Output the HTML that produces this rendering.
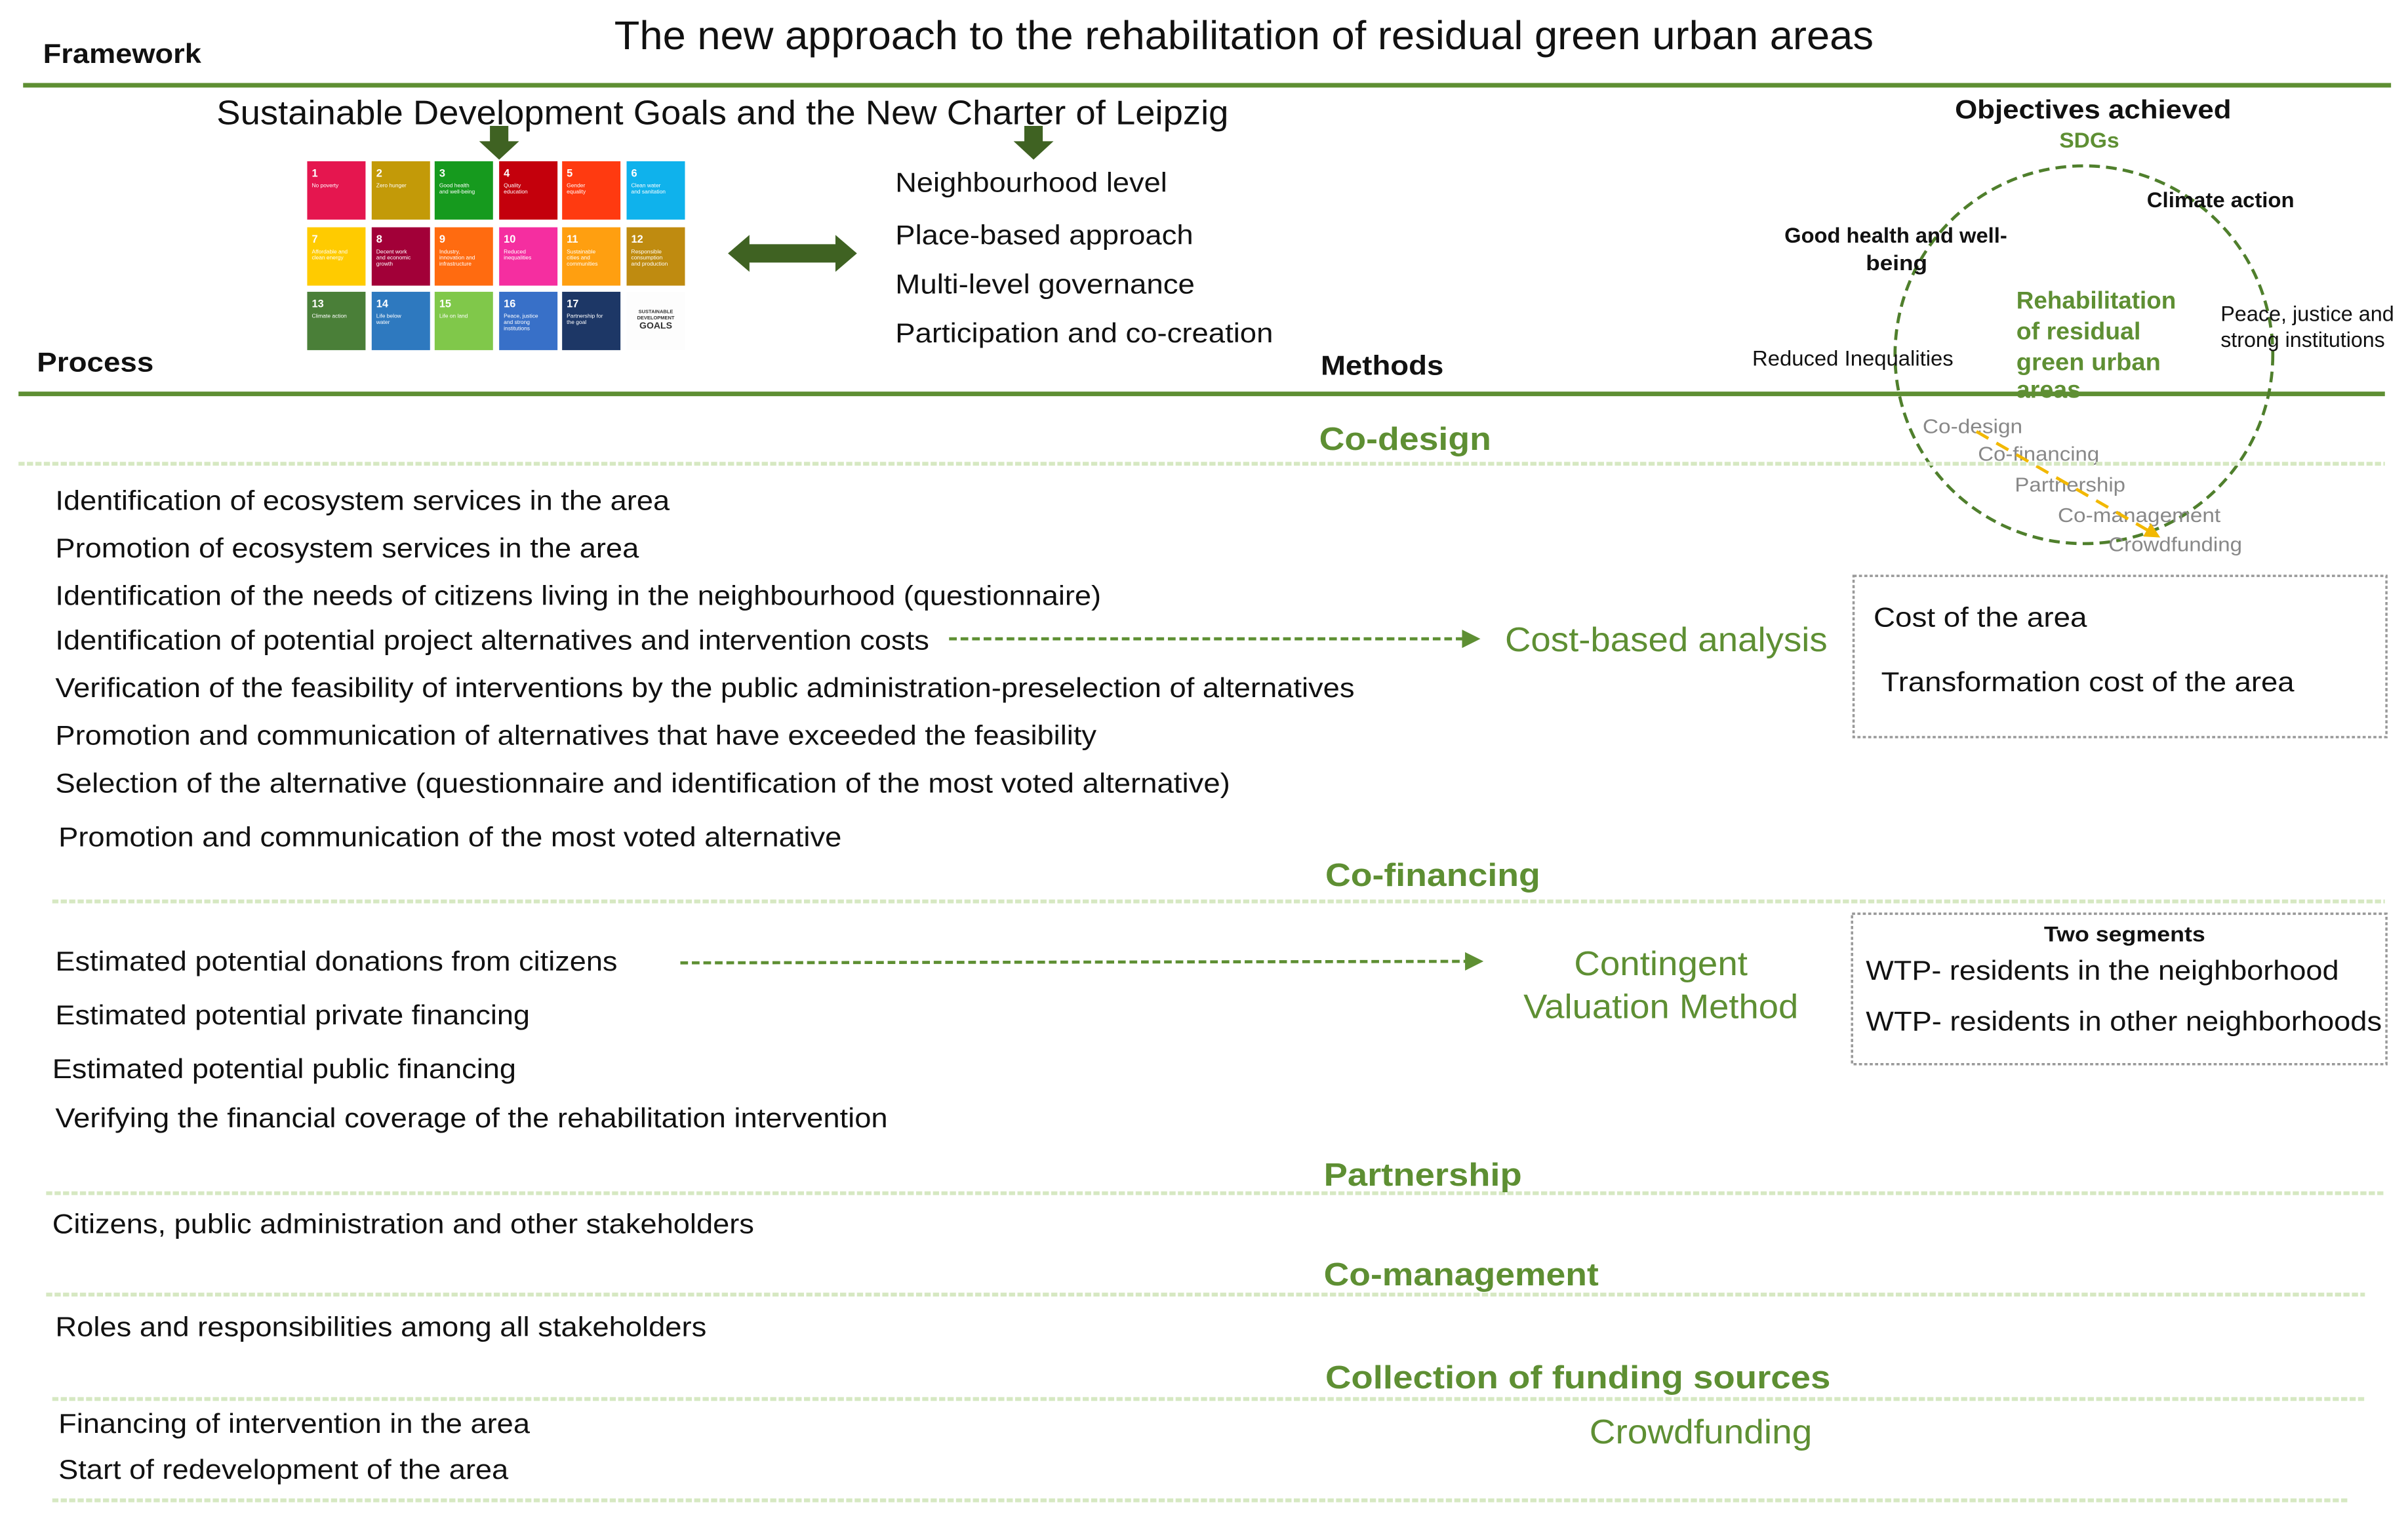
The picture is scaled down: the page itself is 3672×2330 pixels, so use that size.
<!DOCTYPE html>
<html><head><meta charset="utf-8"><style>
html,body{margin:0;padding:0;background:#fff;}
svg{display:block;}
text{font-family:"Liberation Sans",Arial,sans-serif;}
.t{font-size:18px;fill:#111;}
.h{font-size:21px;font-weight:bold;fill:#5e8f33;}
.g{fill:#5e8f33;}
.s{font-size:3.6px;fill:#fff;}
.n{font-size:7px;fill:#fff;font-weight:bold;}
</style></head><body>
<svg width="3672" height="2330" viewBox="0 0 1568 995" xmlns="http://www.w3.org/2000/svg">
<defs>
<marker id="ga" markerWidth="6" markerHeight="6" refX="5" refY="3" orient="auto" markerUnits="strokeWidth"><path d="M0,0 L6,3 L0,6 z" fill="#5e8f33"/></marker>
<marker id="ya" markerWidth="5" markerHeight="5" refX="4" refY="2.5" orient="auto" markerUnits="strokeWidth"><path d="M0,0 L5,2.5 L0,5 z" fill="#f2b800"/></marker>
</defs>
<rect width="1568" height="995" fill="#fff"/>
<text x="400" y="32" font-size="26" fill="#111" textLength="820" lengthAdjust="spacingAndGlyphs">The new approach to the rehabilitation of residual green urban areas</text>
<text x="28" y="41" font-size="18" font-weight="bold" fill="#111" textLength="103" lengthAdjust="spacingAndGlyphs">Framework</text>
<line x1="15" y1="55.5" x2="1557" y2="55.5" stroke="#5e8f33" stroke-width="3"/>
<text x="141" y="81" font-size="22" fill="#111" textLength="659" lengthAdjust="spacingAndGlyphs">Sustainable Development Goals and the New Charter of Leipzig</text>
<!-- down arrows -->
<path d="M319,82 h12 v10 h7 l-13,12 l-13,-12 h7 z" fill="#3f6222"/>
<path d="M667,82 h12 v10 h7 l-13,12 l-13,-12 h7 z" fill="#3f6222"/>
<!-- SDG grid -->
<g>
<rect x="200" y="105" width="38" height="38" fill="#e5164f"/><rect x="242" y="105" width="38" height="38" fill="#c39a08"/><rect x="283" y="105" width="38" height="38" fill="#169a1e"/><rect x="325" y="105" width="38" height="38" fill="#c4000c"/><rect x="366" y="105" width="38" height="38" fill="#ff3a10"/><rect x="408" y="105" width="38" height="38" fill="#0fb2ec"/>
<rect x="200" y="148" width="38" height="38" fill="#ffcb00"/><rect x="242" y="148" width="38" height="38" fill="#a20038"/><rect x="283" y="148" width="38" height="38" fill="#ff6b10"/><rect x="325" y="148" width="38" height="38" fill="#f52ea0"/><rect x="366" y="148" width="38" height="38" fill="#ff9f10"/><rect x="408" y="148" width="38" height="38" fill="#bf8b10"/>
<rect x="200" y="190" width="38" height="38" fill="#4a7f38"/><rect x="242" y="190" width="38" height="38" fill="#2e79bf"/><rect x="283" y="190" width="38" height="38" fill="#80c84a"/><rect x="325" y="190" width="38" height="38" fill="#3870c8"/><rect x="366" y="190" width="38" height="38" fill="#1d3766"/><rect x="408" y="190" width="38" height="38" fill="#fdfdfd"/>
<text class="n" x="203" y="115">1</text><text class="s" x="203" y="122">No poverty</text>
<text class="n" x="245" y="115">2</text><text class="s" x="245" y="122">Zero hunger</text>
<text class="n" x="286" y="115">3</text><text class="s" x="286" y="122">Good health</text><text class="s" x="286" y="126">and well-being</text>
<text class="n" x="328" y="115">4</text><text class="s" x="328" y="122">Quality</text><text class="s" x="328" y="126">education</text>
<text class="n" x="369" y="115">5</text><text class="s" x="369" y="122">Gender</text><text class="s" x="369" y="126">equality</text>
<text class="n" x="411" y="115">6</text><text class="s" x="411" y="122">Clean water</text><text class="s" x="411" y="126">and sanitation</text>
<text class="n" x="203" y="158">7</text><text class="s" x="203" y="165">Affordable and</text><text class="s" x="203" y="169">clean energy</text>
<text class="n" x="245" y="158">8</text><text class="s" x="245" y="165">Decent work</text><text class="s" x="245" y="169">and economic</text><text class="s" x="245" y="173">growth</text>
<text class="n" x="286" y="158">9</text><text class="s" x="286" y="165">Industry,</text><text class="s" x="286" y="169">innovation and</text><text class="s" x="286" y="173">infrastructure</text>
<text class="n" x="328" y="158">10</text><text class="s" x="328" y="165">Reduced</text><text class="s" x="328" y="169">inequalities</text>
<text class="n" x="369" y="158">11</text><text class="s" x="369" y="165">Sustainable</text><text class="s" x="369" y="169">cities and</text><text class="s" x="369" y="173">communities</text>
<text class="n" x="411" y="158">12</text><text class="s" x="411" y="165">Responsible</text><text class="s" x="411" y="169">consumption</text><text class="s" x="411" y="173">and production</text>
<text class="n" x="203" y="200">13</text><text class="s" x="203" y="207">Climate action</text>
<text class="n" x="245" y="200">14</text><text class="s" x="245" y="207">Life below</text><text class="s" x="245" y="211">water</text>
<text class="n" x="286" y="200">15</text><text class="s" x="286" y="207">Life on land</text>
<text class="n" x="328" y="200">16</text><text class="s" x="328" y="207">Peace, justice</text><text class="s" x="328" y="211">and strong</text><text class="s" x="328" y="215">institutions</text>
<text class="n" x="369" y="200">17</text><text class="s" x="369" y="207">Partnership for</text><text class="s" x="369" y="211">the goal</text>
<text x="427" y="204" font-size="3.2" font-weight="bold" fill="#333" text-anchor="middle">SUSTAINABLE</text><text x="427" y="208" font-size="3.2" font-weight="bold" fill="#333" text-anchor="middle">DEVELOPMENT</text><text x="427" y="214" font-size="6" font-weight="bold" fill="#333" text-anchor="middle">GOALS</text>
</g>
<!-- double arrow -->
<path d="M474,165 L488,153 L488,159 L544,159 L544,153 L558,165 L544,177 L544,171 L488,171 L488,177 Z" fill="#3f6222"/>
<text class="t" x="583" y="125" textLength="177" lengthAdjust="spacingAndGlyphs">Neighbourhood level</text>
<text class="t" x="583" y="159" textLength="194" lengthAdjust="spacingAndGlyphs">Place-based approach</text>
<text class="t" x="583" y="191" textLength="195" lengthAdjust="spacingAndGlyphs">Multi-level governance</text>
<text class="t" x="583" y="223" textLength="246" lengthAdjust="spacingAndGlyphs">Participation and co-creation</text>
<text x="24" y="242" font-size="18" font-weight="bold" fill="#111" textLength="76" lengthAdjust="spacingAndGlyphs">Process</text>
<text x="860" y="244" font-size="18" font-weight="bold" fill="#111" textLength="80" lengthAdjust="spacingAndGlyphs">Methods</text>
<line x1="12" y1="256.5" x2="1553" y2="256.5" stroke="#5e8f33" stroke-width="3"/>
<!-- objectives -->
<text x="1273" y="77" font-size="17" font-weight="bold" fill="#111" textLength="180" lengthAdjust="spacingAndGlyphs">Objectives achieved</text>
<text x="1341" y="96" font-size="14" font-weight="bold" class="g" textLength="39" lengthAdjust="spacingAndGlyphs">SDGs</text>
<circle cx="1357" cy="231" r="123" fill="none" stroke="#4f7f2c" stroke-width="2" stroke-dasharray="7,4"/>
<text x="1398" y="135" font-size="14" font-weight="bold" fill="#111" textLength="96" lengthAdjust="spacingAndGlyphs">Climate action</text>
<text x="1162" y="158" font-size="14" font-weight="bold" fill="#111" textLength="145" lengthAdjust="spacingAndGlyphs">Good health and well-</text>
<text x="1215" y="176" font-size="14" font-weight="bold" fill="#111" textLength="40" lengthAdjust="spacingAndGlyphs">being</text>
<text x="1313" y="201" font-size="16" font-weight="bold" class="g" textLength="104" lengthAdjust="spacingAndGlyphs">Rehabilitation</text>
<text x="1313" y="221" font-size="16" font-weight="bold" class="g" textLength="81" lengthAdjust="spacingAndGlyphs">of residual</text>
<text x="1313" y="241" font-size="16" font-weight="bold" class="g" textLength="94" lengthAdjust="spacingAndGlyphs">green urban</text>
<text x="1313" y="259" font-size="16" font-weight="bold" class="g" textLength="42" lengthAdjust="spacingAndGlyphs">areas</text>
<text x="1446" y="209" font-size="14" fill="#111" textLength="113" lengthAdjust="spacingAndGlyphs">Peace, justice and</text>
<text x="1446" y="226" font-size="14" fill="#111" textLength="107" lengthAdjust="spacingAndGlyphs">strong institutions</text>
<text x="1141" y="238" font-size="14" fill="#111" textLength="131" lengthAdjust="spacingAndGlyphs">Reduced Inequalities</text>
<text x="1252" y="282" font-size="13" fill="#888" textLength="65" lengthAdjust="spacingAndGlyphs">Co-design</text>
<text x="1288" y="300" font-size="13" fill="#888" textLength="79" lengthAdjust="spacingAndGlyphs">Co-financing</text>
<text x="1312" y="320" font-size="13" fill="#888" textLength="72" lengthAdjust="spacingAndGlyphs">Partnership</text>
<text x="1340" y="340" font-size="13" fill="#888" textLength="106" lengthAdjust="spacingAndGlyphs">Co-management</text>
<text x="1373" y="359" font-size="13" fill="#888" textLength="87" lengthAdjust="spacingAndGlyphs">Crowdfunding</text>
<line x1="1287" y1="281" x2="1405" y2="349" stroke="#f2b800" stroke-width="2" stroke-dasharray="9,6" marker-end="url(#ya)"/>
<!-- section lines -->
<g stroke="#d6e8c2" stroke-width="2.5" stroke-dasharray="4,1.5">
<line x1="12" y1="302" x2="1553" y2="302"/>
<line x1="34" y1="587" x2="1553" y2="587"/>
<line x1="30" y1="777" x2="1553" y2="777"/>
<line x1="30" y1="843" x2="1540" y2="843"/>
<line x1="34" y1="911" x2="1540" y2="911"/>
<line x1="34" y1="977" x2="1530" y2="977"/>
</g>
<text class="h" x="859" y="293" textLength="112" lengthAdjust="spacingAndGlyphs">Co-design</text>
<text class="t" x="36" y="332" textLength="400" lengthAdjust="spacingAndGlyphs">Identification of ecosystem services in the area</text>
<text class="t" x="36" y="363" textLength="380" lengthAdjust="spacingAndGlyphs">Promotion of ecosystem services in the area</text>
<text class="t" x="36" y="394" textLength="681" lengthAdjust="spacingAndGlyphs">Identification of the needs of citizens living in the neighbourhood (questionnaire)</text>
<text class="t" x="36" y="423" textLength="569" lengthAdjust="spacingAndGlyphs">Identification of potential project alternatives and intervention costs</text>
<text class="t" x="36" y="454" textLength="846" lengthAdjust="spacingAndGlyphs">Verification of the feasibility of interventions by the public administration-preselection of alternatives</text>
<text class="t" x="36" y="485" textLength="678" lengthAdjust="spacingAndGlyphs">Promotion and communication of alternatives that have exceeded the feasibility</text>
<text class="t" x="36" y="516" textLength="765" lengthAdjust="spacingAndGlyphs">Selection of the alternative  (questionnaire and identification of the most voted alternative)</text>
<text class="t" x="38" y="551" textLength="510" lengthAdjust="spacingAndGlyphs">Promotion and communication of the most voted alternative</text>
<line x1="618" y1="416" x2="962" y2="416" stroke="#5e8f33" stroke-width="2" stroke-dasharray="5,2.5" marker-end="url(#ga)"/>
<text x="980" y="424" font-size="22" class="g" textLength="210" lengthAdjust="spacingAndGlyphs">Cost-based analysis</text>
<rect x="1207" y="375" width="347" height="105" fill="none" stroke="#999" stroke-width="1.5" stroke-dasharray="2,1.5"/>
<text class="t" x="1220" y="408" textLength="139" lengthAdjust="spacingAndGlyphs">Cost of the area</text>
<text class="t" x="1225" y="450" textLength="269" lengthAdjust="spacingAndGlyphs">Transformation cost of the area</text>
<text class="h" x="863" y="577" textLength="140" lengthAdjust="spacingAndGlyphs">Co-financing</text>
<text class="t" x="36" y="632" textLength="366" lengthAdjust="spacingAndGlyphs">Estimated potential donations from citizens</text>
<text class="t" x="36" y="667" textLength="309" lengthAdjust="spacingAndGlyphs">Estimated potential private financing</text>
<text class="t" x="34" y="702" textLength="302" lengthAdjust="spacingAndGlyphs">Estimated potential public  financing</text>
<text class="t" x="36" y="734" textLength="542" lengthAdjust="spacingAndGlyphs">Verifying the financial coverage of the rehabilitation intervention</text>
<line x1="443" y1="627" x2="964" y2="626" stroke="#5e8f33" stroke-width="2" stroke-dasharray="5,2.5" marker-end="url(#ga)"/>
<text x="1025" y="635" font-size="22" class="g" textLength="113" lengthAdjust="spacingAndGlyphs">Contingent</text>
<text x="992" y="663" font-size="22" class="g" textLength="179" lengthAdjust="spacingAndGlyphs">Valuation Method</text>
<rect x="1206" y="595" width="348" height="98" fill="none" stroke="#999" stroke-width="1.5" stroke-dasharray="2,1.5"/>
<text x="1331" y="613" font-size="14" font-weight="bold" fill="#111" textLength="105" lengthAdjust="spacingAndGlyphs">Two segments</text>
<text class="t" x="1215" y="638" textLength="308" lengthAdjust="spacingAndGlyphs">WTP- residents in the neighborhood</text>
<text class="t" x="1215" y="671" textLength="336" lengthAdjust="spacingAndGlyphs">WTP- residents in other neighborhoods</text>
<text class="h" x="862" y="772" textLength="129" lengthAdjust="spacingAndGlyphs">Partnership</text>
<text class="t" x="34" y="803" textLength="457" lengthAdjust="spacingAndGlyphs">Citizens, public administration and other stakeholders</text>
<text class="h" x="862" y="837" textLength="179" lengthAdjust="spacingAndGlyphs">Co-management</text>
<text class="t" x="36" y="870" textLength="424" lengthAdjust="spacingAndGlyphs">Roles and responsibilities among all stakeholders</text>
<text class="h" x="863" y="904" textLength="329" lengthAdjust="spacingAndGlyphs">Collection of funding sources</text>
<text class="t" x="38" y="933" textLength="307" lengthAdjust="spacingAndGlyphs">Financing of intervention in the area</text>
<text class="t" x="38" y="963" textLength="293" lengthAdjust="spacingAndGlyphs">Start of redevelopment of the area</text>
<text x="1035" y="940" font-size="22" class="g" textLength="145" lengthAdjust="spacingAndGlyphs">Crowdfunding</text>
</svg>
</body></html>
